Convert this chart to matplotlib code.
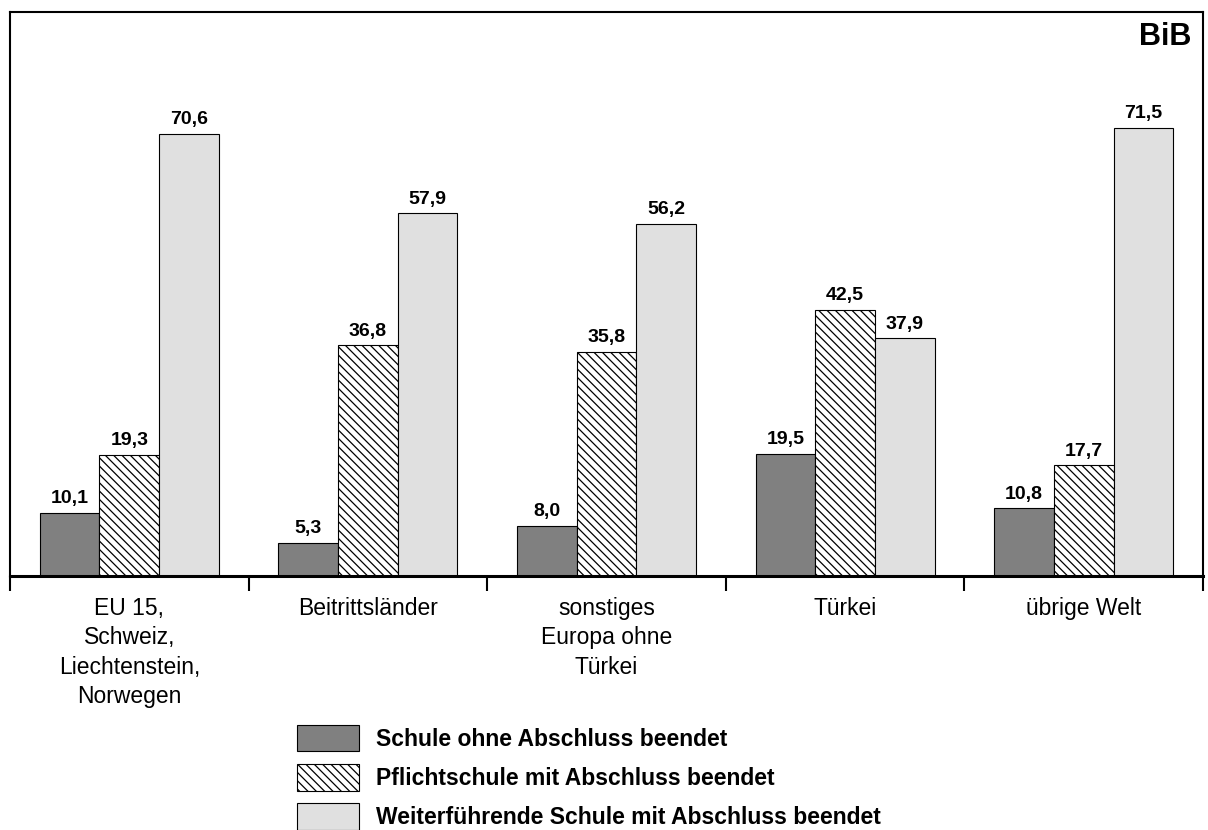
#!/usr/bin/env python3

import numpy as np
import matplotlib
matplotlib.use('Agg')
import matplotlib.pyplot as plt
import matplotlib.transforms as mtransforms

plt.rcParams['font.family'] = ['Liberation Sans', 'DejaVu Sans']
plt.rcParams['hatch.linewidth'] = 0.9

categories = ['EU 15,\nSchweiz,\nLiechtenstein,\nNorwegen', 'Beitrittsländer',
              'sonstiges\nEuropa ohne\nTürkei', 'Türkei', 'übrige Welt']
ohne_abschluss = [10.1, 5.3, 8.0, 19.5, 10.8]
pflichtschule = [19.3, 36.8, 35.8, 42.5, 17.7]
weiterfuehrend = [70.6, 57.9, 56.2, 37.9, 71.5]

series_names = ['Schule ohne Abschluss beendet',
                'Pflichtschule mit Abschluss beendet',
                'Weiterführende Schule mit Abschluss beendet']
series_colors = ['#808080', 'white', '#e0e0e0']
series_hatches = [None, '\\\\\\\\', None]


def fmt(v):
    return '{:.1f}'.format(v).replace('.', ',')


def main():
    fig = plt.figure(figsize=(12.08, 8.3), dpi=100)
    ax = fig.add_axes([10 / 1208, (830 - 576) / 830, 1193 / 1208, 564 / 830])
    x = np.arange(len(categories))
    width = 0.25
    handles = []
    for i, (vals, name) in enumerate(zip([ohne_abschluss, pflichtschule, weiterfuehrend], series_names)):
        bars = ax.bar(x + (i - 1) * width, vals, width, color=series_colors[i],
                      hatch=series_hatches[i], edgecolor='black', linewidth=0.8,
                      label=name)
        ax.bar_label(bars, labels=[fmt(v) for v in vals], padding=4,
                     fontsize=14, fontweight='bold')
        handles.append(bars)
    ax.set_xlim(-0.5, len(categories) - 0.5)
    ax.set_ylim(0, 90)
    ax.set_yticks([])
    ax.set_xticks(np.arange(len(categories) + 1) - 0.5)
    ax.set_xticklabels([])
    ax.tick_params(axis='x', which='major', length=11, width=1.5, direction='out')
    for side in ['left', 'top', 'right']:
        ax.spines[side].set_linewidth(1.5)
    ax.spines['bottom'].set_linewidth(2.2)

    # category labels below the axis
    trans = mtransforms.blended_transform_factory(ax.transData, ax.transAxes)
    for xi, cat in zip(x, categories):
        ax.annotate(cat, (xi, 0), xycoords=trans, xytext=(0, -15),
                    textcoords='offset points', ha='center', va='top',
                    fontsize=16.5, linespacing=1.36, annotation_clip=False)

    ax.text(0.99, 0.956, 'BiB', transform=ax.transAxes, ha='right', va='center',
            fontsize=22, fontweight='bold')
    fig.legend(handles=handles, loc='upper left',
               bbox_to_anchor=(297 / 1208, (830 - 725) / 830),
               frameon=False, borderpad=0, borderaxespad=0,
               handlelength=2.7, handleheight=1.4, handletextpad=0.75,
               labelspacing=0.55, prop={'size': 16.5, 'weight': 'bold'})
    fig.savefig('out.png', dpi=100)


if __name__ == '__main__':
    main()
